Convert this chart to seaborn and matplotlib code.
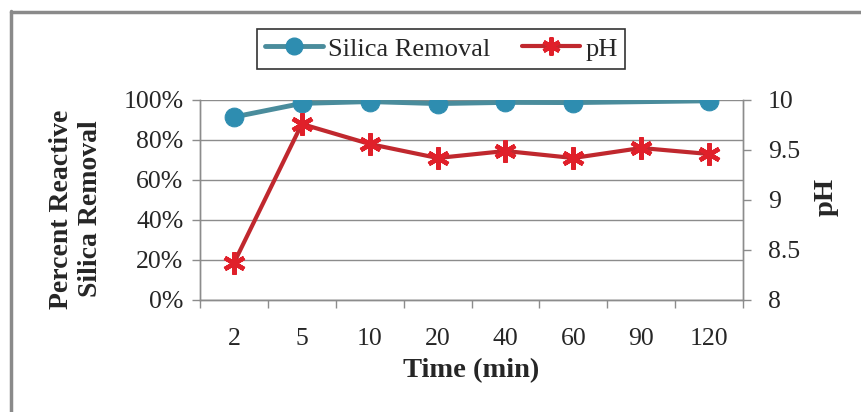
import numpy as np
import pandas as pd
import seaborn as sns
import matplotlib.pyplot as plt
from matplotlib.lines import Line2D
from matplotlib.ticker import FuncFormatter

# Sampling times (min) and measured series
times = ["2", "5", "10", "20", "40", "60", "90", "120"]
silica_removal = [91.5, 98.3, 99.2, 98.2, 98.8, 98.7, np.nan, 99.6]  # percent
ph_values = [8.37, 9.76, 9.56, 9.42, 9.49, 9.42, 9.52, 9.46]

SILICA_LINE = "#4A8C9C"
SILICA_MARK = "#2E8DB0"
PH_LINE = "#C0282E"
PH_MARK = "#E0202A"
GRID = "#8C8C8C"

sns.set_theme(style="white")
plt.rcParams["font.family"] = ["Liberation Serif", "DejaVu Serif"]

df = pd.DataFrame({
    "pos": np.arange(len(times)),
    "time": times,
    "silica": silica_removal,
    "ph": ph_values,
})

fig = plt.figure(figsize=(8.61, 4.12), dpi=100)
ax = fig.add_axes([200 / 861, 112 / 412, 543 / 861, 200 / 412])
ax2 = ax.twinx()

# Silica removal on the left axis (missing point at 90 min is bridged)
sil = df.dropna(subset=["silica"])
sns.lineplot(data=sil, x="pos", y="silica", ax=ax, color=SILICA_LINE,
             linewidth=3.5, marker="o", markersize=13.5,
             markerfacecolor=SILICA_MARK, markeredgecolor=SILICA_MARK,
             zorder=3)

# pH on the right axis
sns.lineplot(data=df, x="pos", y="ph", ax=ax2, color=PH_LINE,
             linewidth=3, marker=(6, 2, 0), markersize=16,
             markeredgewidth=3.2, markeredgecolor=PH_MARK,
             markerfacecolor=PH_MARK, zorder=3)

ax.set_xlim(-0.5, len(times) - 0.5)
ax.set_ylim(0, 100)
ax2.set_ylim(8, 10)

# Category boundaries carry the tick marks, labels sit at category centres
ax.set_xticks(np.arange(len(times) + 1) - 0.5)
ax.set_xticklabels([])
ax.set_xticks(np.arange(len(times)), minor=True)
ax.set_xticklabels(times, minor=True)
ax.tick_params(axis="x", which="major", length=6, color=GRID, width=1,
               direction="out", bottom=True)
ax.tick_params(axis="x", which="minor", length=0, pad=20, labelsize=18.5)

ax.set_yticks(np.arange(0, 101, 20))
ax.yaxis.set_major_formatter(FuncFormatter(lambda v, p: f"{v:.0f}%"))
ax.tick_params(axis="y", length=6, color=GRID, width=1, direction="out",
               left=True, labelsize=18.5, pad=6)
ax.grid(axis="y", color=GRID, linewidth=1)
ax.grid(axis="x", visible=False)

ax2.set_yticks([8, 8.5, 9, 9.5, 10])
ax2.set_yticklabels(["8", "8.5", "9", "9.5", "10"])
ax2.tick_params(axis="y", length=6, color=GRID, width=1, direction="out",
                right=True, labelsize=18.5, pad=12)
ax2.grid(False)

for a in (ax, ax2):
    a.spines["top"].set_visible(False)
    for s in ("left", "right", "bottom"):
        a.spines[s].set_color(GRID)
        a.spines[s].set_linewidth(1)

ax.set_xlabel("Time (min)", fontsize=20.5, fontweight="bold")
ax.xaxis.set_label_coords(0.5, -(371 - 300) / 200, transform=ax.transAxes)
ax.xaxis.label.set_va("center")

ax.set_ylabel("Percent Reactive\nSilica Removal", fontsize=20,
              fontweight="bold", linespacing=1.25)
ax.yaxis.set_label_coords(-(200 - 76) / 543, (300 - 209) / 200)
ax.yaxis.label.set_va("center")

ax2.set_ylabel("pH", fontsize=20.5, fontweight="bold")
ax2.yaxis.set_label_coords((826 - 200) / 543, (300 - 197) / 200)
ax2.yaxis.label.set_va("center")

handles = [
    Line2D([], [], color=SILICA_LINE, linewidth=3.5, marker="o",
           markersize=12, markerfacecolor=SILICA_MARK,
           markeredgecolor=SILICA_MARK),
    Line2D([], [], color=PH_LINE, linewidth=3, marker=(6, 2, 0),
           markersize=13, markeredgewidth=3, markeredgecolor=PH_MARK),
]
leg = fig.legend(handles, ["Silica Removal", "pH"], loc="center",
                 bbox_to_anchor=(441 / 861, 1 - 49 / 412), ncol=2,
                 fontsize=19, frameon=True, fancybox=False,
                 edgecolor="black", handlelength=2.2, handletextpad=0.2,
                 columnspacing=1.2, borderpad=0.3)
leg.get_frame().set_linewidth(1.2)

# Chart-area border along the top and left edges
fig.add_artist(Line2D([10.5 / 861, 10.5 / 861], [0, 1 - 11 / 412],
                      transform=fig.transFigure, color="#8A8A8A",
                      linewidth=2.5))
fig.add_artist(Line2D([10.5 / 861, 1], [1 - 12 / 412, 1 - 12 / 412],
                      transform=fig.transFigure, color="#8A8A8A",
                      linewidth=2.5))

fig.savefig("out.png", dpi=100, facecolor="white")
